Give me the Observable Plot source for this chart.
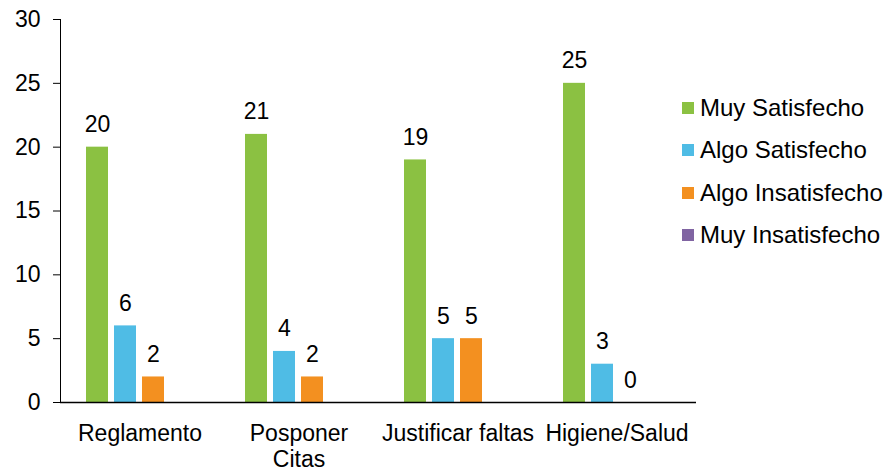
<!DOCTYPE html>
<html><head><meta charset="utf-8">
<script src="https://cdn.jsdelivr.net/npm/d3@7"></script>
<script src="https://cdn.jsdelivr.net/npm/@observablehq/plot@0.6"></script>
<style>
body{margin:0;background:#fff;font-family:"Liberation Sans",Arial,sans-serif;}
#wrap{position:relative;width:886px;height:467px;}
#legend{position:absolute;left:682px;top:0;}
.item{position:absolute;left:0;height:26px;white-space:nowrap;font-size:24px;display:flex;align-items:center;color:#000;}
.sw{width:12px;height:12px;margin-right:6px;flex:none}
</style></head><body><div id="wrap"></div>
<script>
const categories = ["Reglamento","Posponer Citas","Justificar faltas","Higiene/Salud"];
const series = ["Muy Satisfecho","Algo Satisfecho","Algo Insatisfecho","Muy Insatisfecho"];
const muySatisfecho = [20,21,19,25];
const algoSatisfecho = [6,4,5,3];
const algoInsatisfecho = [2,2,5,0];
const muyInsatisfecho = [null,null,null,null];
const colors = ["#8BC142","#4FBCE5","#F39020","#8064A2"];
const yTicks = [0,5,10,15,20,25,30];

const seriesValues = [muySatisfecho, algoSatisfecho, algoInsatisfecho, muyInsatisfecho];
const rows = [];
categories.forEach((c,i)=>series.forEach((s,j)=>rows.push({cat:c, series:s, value:seriesValues[j][i]})));
const labeled = rows.filter(d=>d.value!=null);
const font = '"Liberation Sans", Arial, sans-serif';

const chart = Plot.plot({
  width:886, height:467,
  marginLeft:60, marginRight:190, marginTop:19, marginBottom:65,
  style:{fontFamily:font, fontSize:"23px", color:"#000", background:"#fff", overflow:"visible"},
  fx:{domain:categories, padding:0},
  x:{domain:series, axis:null, paddingInner:0.207, paddingOuter:0.845},
  y:{domain:[0,30], ticks:yTicks, tickSize:7, tickPadding:13, label:null, line:true},
  color:{domain:series, range:colors},
  marks:[
    Plot.axisFx({anchor:"bottom", tickSize:0, tickPadding:21, label:null, lineHeight:1.1, fontSize:23,
      tickFormat:d=>d==="Posponer Citas" ? "Posponer\nCitas" : d}),
    Plot.barY(rows, {fx:"cat", x:"series", y:"value", fill:"series"}),
    Plot.ruleY([0], {stroke:"#000", strokeWidth:1.5}),
    Plot.text(labeled, {fx:"cat", x:"series", y:"value", text:d=>String(d.value), dy:-15, lineAnchor:"bottom", fontSize:23, fill:"#000"})
  ]
});
const wrap = document.getElementById("wrap");
wrap.appendChild(chart);
const legend = document.createElement("div");
legend.id = "legend";
const rowCenters = [107.5,150,192.5,235];
series.forEach((s,i)=>{
  const it = document.createElement("div");
  it.className = "item";
  it.style.top = (rowCenters[i]-13)+"px";
  it.innerHTML = `<span class="sw" style="background:${colors[i]}"></span><span>${s}</span>`;
  legend.appendChild(it);
});
wrap.appendChild(legend);
</script></body></html>
